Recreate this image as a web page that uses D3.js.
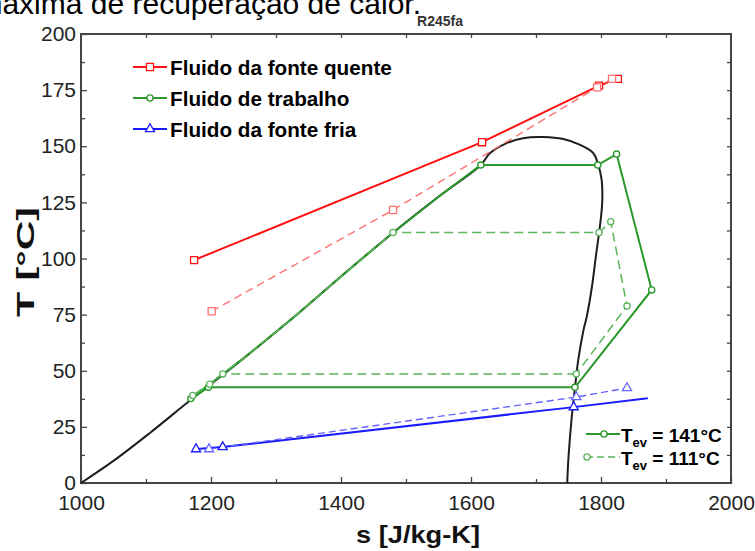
<!DOCTYPE html>
<html>
<head>
<meta charset="utf-8">
<script src="https://cdn.jsdelivr.net/npm/d3@7"></script>
<style>
  body { margin: 0; background: #fff; }
  svg { display: block; font-family: "Liberation Sans", Arial, sans-serif; }
</style>
</head>
<body>
<svg id="chart" width="755" height="551"></svg>
<script>
// saturation dome of R245fa (s, T)
const dome = [[1000,0],[1052,10.3],[1106,22.3],[1171,37.5],[1250,55.5],[1330,74.5],[1400,92],
  [1480,111.5],[1550,127.5],[1615,141.6],[1629,146.9],[1655,151.4],[1680,153.6],[1711,154.1],
  [1742,153.2],[1768,150.6],[1788,147],[1795,142.5],[1801,135],[1802,126],[1800,118.5],
  [1797,111.4],[1792,100.7],[1786,87.3],[1778,74],[1773,68],[1765,54.8],[1760,42.5],
  [1755,29.4],[1750,11.6],[1748,0]];

// hot source
const hot141 = [[1174,99.3],[1617,151.8],[1797,177],[1826,180]];
const hot111 = [[1201,76.5],[1480,121.6],[1794,176.2],[1817,180]];
// working fluid cycle
const wf141 = [[1760,42.6],[1196,42.6],[1169,37.6],[1615,141.6],[1795,141.6],[1824,146.5],[1878,86],[1760,42.6]];
const wf111 = [[1762,48.6],[1218,48.6],[1198,44],[1172,39],[1480,111.6],[1797,111.6],[1815,116.4],[1840,78.8],[1762,48.6]];
// cold source
const cold141 = [[1177,15.1],[1218,16],[1758,33.8],[1872,37.8]];
const cold111 = [[1197,15.1],[1762,38.3],[1840,42.3]];

const legendTop = ["Fluido da fonte quente", "Fluido de trabalho", "Fluido da fonte fria"];
const legendEv = ["141°C", "111°C"];

const xTicks = [1000,1200,1400,1600,1800,2000];
const yTicks = [0,25,50,75,100,125,150,175,200];

const svg = d3.select('#chart');
const x = d3.scaleLinear().domain([1000,2000]).range([81,731]);
const y = d3.scaleLinear().domain([0,200]).range([483,34]);

// cut-off caption line above the chart
svg.append('text')
  .attr('x', 421).attr('y', 14)
  .attr('text-anchor', 'end')
  .style('font-size', '30px').style('fill', '#000')
  .text('máxima de recuperação de calor.');

svg.append('text')
  .attr('x', 440).attr('y', 26)
  .attr('text-anchor', 'middle')
  .style('font-size', '14px').style('font-weight', 'bold').style('fill', '#333')
  .text('R245fa');

// axes, ticks inside
svg.append('g').attr('transform', 'translate(0,483)')
  .call(d3.axisBottom(x).tickValues(xTicks).tickSize(-6).tickPadding(12).tickFormat(d3.format('d')));
svg.append('g').attr('transform', 'translate(81,0)')
  .call(d3.axisLeft(y).tickValues(yTicks).tickSize(-6).tickPadding(5));
svg.append('g').attr('transform', 'translate(0,483)')
  .call(d3.axisBottom(x).tickValues(d3.range(1100,2000,200)).tickSize(-4).tickFormat(''));
svg.append('g').attr('transform', 'translate(81,0)')
  .call(d3.axisLeft(y).tickValues(d3.range(12.5,200,25)).tickSize(-4).tickFormat(''));
svg.append('g').attr('transform', 'translate(0,34)')
  .call(d3.axisTop(x).tickValues(d3.range(1100,2000,100)).tickSize(-4).tickFormat(''));
svg.append('g').attr('transform', 'translate(731,0)')
  .call(d3.axisRight(y).tickValues(d3.range(12.5,200,12.5)).tickSize(-4).tickFormat(''));

svg.selectAll('.domain').remove();
svg.selectAll('.tick line').attr('stroke', '#444').attr('stroke-width', 1.3);
svg.selectAll('.tick text').style('font-size', '21px').attr('fill', '#222');

svg.append('rect')
  .attr('x', 81).attr('y', 34).attr('width', 650).attr('height', 449)
  .attr('fill', 'none').attr('stroke', '#444').attr('stroke-width', 2);

svg.append('text')
  .attr('x', 418).attr('y', 543)
  .attr('text-anchor', 'middle')
  .attr('textLength', 124).attr('lengthAdjust', 'spacingAndGlyphs')
  .style('font-size', '24px').style('font-weight', 'bold').style('fill', '#111')
  .text('s [J/kg-K]');
svg.append('text')
  .attr('transform', 'translate(34,262) rotate(-90)')
  .attr('text-anchor', 'middle')
  .attr('textLength', 110).attr('lengthAdjust', 'spacingAndGlyphs')
  .style('font-size', '24px').style('font-weight', 'bold').style('fill', '#111')
  .text('T [°C]');

// follow the liquid branch of the dome between two states on it
const liquid = dome.slice(0, d3.maxIndex(dome, d => d[1]) + 1);
function withDome(pts) {
  const out = [pts[0]];
  for (let i = 1; i < pts.length; i++) {
    const a = pts[i-1], b = pts[i];
    if (a[0] < 1700 && b[0] < 1700 && Math.abs(b[1] - a[1]) > 20) {
      const lo = Math.min(a[1], b[1]), hi = Math.max(a[1], b[1]);
      let mid = liquid.filter(d => d[1] > lo + 2 && d[1] < hi - 2);
      if (b[1] < a[1]) mid = mid.reverse();
      out.push(...mid);
    }
    out.push(b);
  }
  return out;
}

const line = d3.line().x(d => x(d[0])).y(d => y(d[1]));
const plot = svg.append('g');

plot.append('path')
  .datum(dome)
  .attr('fill', 'none')
  .attr('stroke', '#1e1e1e')
  .attr('stroke-width', 2)
  .attr('d', d3.line().x(d => x(d[0])).y(d => y(d[1])).curve(d3.curveCatmullRom));

const series = [
  {pts: wf141, color: '#2a982a', w: 2, dash: null, mark: 'circle', sat: true},
  {pts: wf111, color: '#5cb55c', w: 1.5, dash: '9,5', mark: 'circle', sat: true},
  {pts: hot141, color: '#ff1010', w: 2, dash: null, mark: 'square'},
  {pts: hot111, color: '#ff7070', w: 1.4, dash: '8,5', mark: 'square'},
  {pts: cold141, color: '#1a1aff', w: 2, dash: null, mark: 'triangle', skipLast: true},
  {pts: cold111, color: '#6464ff', w: 1.4, dash: '7,4', mark: 'triangle'}
];

series.forEach(s => {
  plot.append('path')
    .datum(s.sat ? withDome(s.pts) : s.pts)
    .attr('fill', 'none')
    .attr('stroke', s.color)
    .attr('stroke-width', s.w)
    .attr('stroke-dasharray', s.dash)
    .attr('d', line);
});

const symbols = {circle: d3.symbolCircle, square: d3.symbolSquare, triangle: d3.symbolTriangle};
const sizes = {circle: 30, square: 50, triangle: 36};

function marker(g, type, color, px, py) {
  g.append('path')
    .attr('d', d3.symbol(symbols[type], sizes[type]))
    .attr('transform', 'translate(' + px + ',' + py + ')')
    .attr('fill', '#fff')
    .attr('stroke', color)
    .attr('stroke-width', 1.3);
}

series.forEach(s => {
  const pts = s.skipLast ? s.pts.slice(0, -1) : s.pts;
  // cycle closes on its first point, skip the duplicate
  pts.forEach((d, i) => {
    if (i > 0 && i === pts.length - 1 && d[0] === pts[0][0] && d[1] === pts[0][1]) return;
    marker(plot, s.mark, s.color, x(d[0]), y(d[1]));
  });
});

// legend top-left
const lg = svg.append('g');
const lgColors = ['#ff1010', '#2a982a', '#1a1aff'];
const lgMarks = ['square', 'circle', 'triangle'];
const lgY = [67, 98, 129];
legendTop.forEach((t, i) => {
  lg.append('line')
    .attr('x1', 133).attr('x2', 167).attr('y1', lgY[i]).attr('y2', lgY[i])
    .attr('stroke', lgColors[i]).attr('stroke-width', 2);
  marker(lg, lgMarks[i], lgColors[i], 150, lgY[i]);
  lg.append('text')
    .attr('x', 170).attr('y', lgY[i] + 8)
    .style('font-size', '20.7px').style('font-weight', 'bold').style('fill', '#000')
    .text(t);
});

// legend bottom-right
const lb = svg.append('g');
const evY = [434, 457];
legendEv.forEach((t, i) => {
  const c = i === 0 ? '#2a982a' : '#5cb55c';
  lb.append('line')
    .attr('x1', 586).attr('x2', 620).attr('y1', evY[i]).attr('y2', evY[i])
    .attr('stroke', c).attr('stroke-width', i === 0 ? 2 : 1.5)
    .attr('stroke-dasharray', i === 0 ? null : '7,4');
  marker(lb, 'circle', c, i === 0 ? 604 : 587, evY[i]);
  const tx = lb.append('text')
    .attr('x', 621).attr('y', evY[i] + 8)
    .style('font-size', '19px').style('font-weight', 'bold').style('fill', '#000');
  tx.append('tspan').text('T');
  tx.append('tspan').attr('dy', 5).style('font-size', '13px').text('ev');
  tx.append('tspan').attr('dy', -5).text(' = ' + t);
});
</script>
</body>
</html>
